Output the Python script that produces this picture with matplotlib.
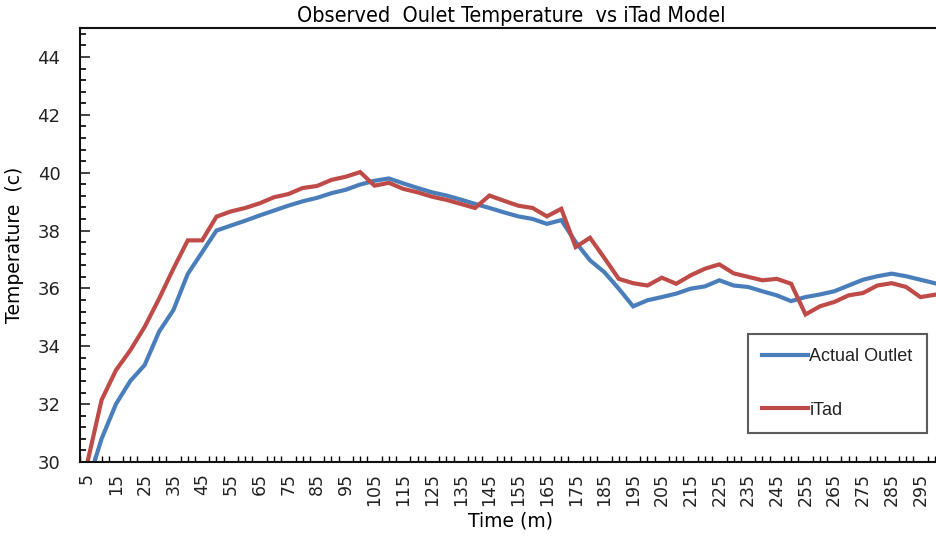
import matplotlib
matplotlib.use("Agg")
import matplotlib.pyplot as plt
from matplotlib.ticker import MultipleLocator, FixedLocator
import numpy as np

# time in minutes (categories)
times = list(range(5, 305, 5))

actual_outlet = [
    29.2, 30.8, 32.0, 32.8, 33.35, 34.5, 35.25, 36.5, 37.25, 38.0,
    38.17, 38.34, 38.52, 38.69, 38.86, 39.01, 39.13, 39.29, 39.41, 39.59,
    39.72, 39.8, 39.63, 39.47, 39.32, 39.21, 39.07, 38.92, 38.78, 38.63,
    38.49, 38.4, 38.23, 38.36, 37.6, 36.97, 36.56, 35.99, 35.38, 35.59,
    35.7, 35.82, 35.99, 36.07, 36.28, 36.1, 36.05, 35.9, 35.76, 35.56,
    35.7, 35.79, 35.9, 36.1, 36.3, 36.42, 36.51, 36.42, 36.3, 36.18,
]

itad = [
    29.95, 32.14, 33.17, 33.86, 34.67, 35.64, 36.68, 37.66, 37.66, 38.48,
    38.66, 38.78, 38.94, 39.15, 39.26, 39.47, 39.54, 39.75, 39.86, 40.02,
    39.55, 39.65, 39.44, 39.32, 39.17, 39.06, 38.92, 38.78, 39.21, 39.03,
    38.86, 38.78, 38.49, 38.75, 37.43, 37.75, 37.05, 36.33, 36.18, 36.1,
    36.37, 36.16, 36.45, 36.68, 36.83, 36.52, 36.4, 36.28, 36.33, 36.16,
    35.1, 35.38, 35.53, 35.76, 35.84, 36.1, 36.18, 36.05, 35.7, 35.78,
]

blue = "#4A7EBB"
red = "#BE4B48"

fig = plt.figure(figsize=(9.36, 5.42), dpi=100)
# chart is cut off on the right, so the plot area runs a bit past the edge
ax = fig.add_axes([80 / 936, 80 / 542, 862 / 936, 434 / 542])

x = np.arange(len(times))
ax.plot(x, actual_outlet, color=blue, lw=3, label="Actual Outlet", solid_joinstyle="miter")
ax.plot(x, itad, color=red, lw=3, label="iTad", solid_joinstyle="miter")

ax.set_xlim(-0.5, len(times) - 0.5)
ax.set_ylim(30, 45)

ax.yaxis.set_minor_locator(MultipleLocator(0.4))
ax.set_yticks([30, 32, 34, 36, 38, 40, 42, 44])

# labels every other category, ticks at category boundaries
ax.set_xticks(x[::2])
ax.set_xticklabels([str(t) for t in times[::2]], rotation=90)
ax.xaxis.set_minor_locator(FixedLocator(np.arange(-0.5, len(times), 0.5)))

ax.tick_params(axis="y", which="major", direction="in", length=7, width=1.2,
               labelsize=13, colors="#222222", pad=14)
ax.tick_params(axis="y", which="minor", direction="in", length=4, width=1.2)
ax.tick_params(axis="x", which="major", direction="in", length=0,
               labelsize=12.5, colors="#222222", pad=8)
ax.tick_params(axis="x", which="minor", direction="in", length=4, width=1.0)

for s in ax.spines.values():
    s.set_linewidth(1.5)
    s.set_color("#111111")

ax.set_title("Observed  Oulet Temperature  vs iTad Model", fontsize=15.5,
             family=["DejaVu Sans"], fontstretch="condensed", pad=4)
ax.set_xlabel("Time (m)", fontsize=13.5, labelpad=4)
ax.set_ylabel("Temperature  (c)", fontsize=13.5, labelpad=10)

leg = ax.legend(loc="upper left", bbox_to_anchor=(748 / 936, 1 - 334 / 542),
                bbox_transform=fig.transFigure,
                prop={"family": ["Liberation Sans", "DejaVu Sans"], "size": 13},
                frameon=True, fancybox=False, edgecolor="#333333",
                handlelength=2.5, handletextpad=0.1, labelspacing=2.0,
                borderpad=0.8, borderaxespad=0)
leg.get_frame().set_linewidth(1.5)
for t in leg.get_texts():
    t.set_color("#222222")

fig.savefig("out.png", dpi=100)
